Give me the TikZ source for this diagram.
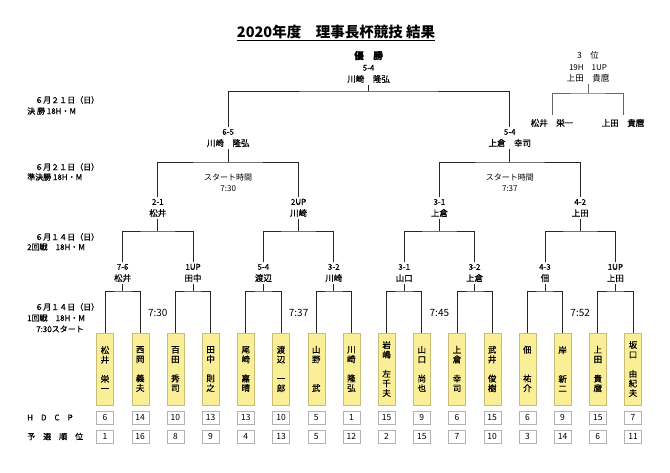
\documentclass[tikz,border=0pt]{standalone}
\usepackage{fontspec}
\setmainfont{Noto Sans CJK JP}
\newfontfamily\heavyish{Noto Sans CJK JP}[FakeBold=0.6]
\usepackage{xcolor}
\usetikzlibrary{positioning}
\definecolor{BoxYellow}{RGB}{250,238,150}
\definecolor{BoxEdge}{RGB}{200,188,120}

\tikzset{
    line/.style={draw=black!85, line width=0.9pt},
    player/.style={draw=BoxEdge, fill=BoxYellow, minimum width=17pt, minimum height=72pt,
                   inner sep=0pt, align=center, font=\heavyish\fontsize{8.5}{9.6}\selectfont},
    numbox/.style={draw=black!30, fill=white, minimum width=17pt, minimum height=13pt,
                   inner sep=0pt, font=\fontsize{8.5}{9}\selectfont},
    result/.style={align=center, inner sep=1.5pt, font=\heavyish\fontsize{8.5}{11.5}\selectfont},
    daylabel/.style={anchor=west, inner sep=0pt, font=\heavyish\fontsize{8}{9}\selectfont},
    timelabel/.style={inner sep=0pt, font=\fontsize{10}{11}\selectfont},
}

\begin{document}
\begin{tikzpicture}[x=1pt, y=-1pt]
                    \useasboundingbox (0,0) rectangle (670,473);
%                    title
                    \node[inner sep=0pt, font=\fontsize{14.5}{16}\selectfont\bfseries] (title) at (336,32) {2020年度　理事長杯競技 結果};
                    \draw[line width=1.3pt] ([yshift=-3pt]title.base west) -- ([yshift=-3pt]title.base east);

%                    dates
                    \node[daylabel] (d1a) at (35,100) {６月２１日（日）};
                    \node[daylabel] (d1b) at (27,111) {決 勝 18H・M};
                    \node[daylabel] (d2a) at (35,167) {６月２１日（日）};
                    \node[daylabel] (d2b) at (27,177) {準決勝 18H・M};
                    \node[daylabel] (d3a) at (35,237) {６月１４日（日）};
                    \node[daylabel] (d3b) at (27,247) {2回戦　18H・M};
                    \node[daylabel] (d4a) at (35,307) {６月１４日（日）};
                    \node[daylabel] (d4b) at (27,318) {1回戦　18H・M};
                    \node[daylabel] (d4c) at (36,329) {7:30スタート};
                    \node[daylabel] (hl) at (27,417.5) {H　D　C　P};
                    \node[daylabel] (rl) at (27,436.5) {予　選　順　位};

%                    players
                    \foreach \i/\nm/\hc/\rk in {0/{松\\井\\~\\栄\\一}/6/1, 1/{西\\岡\\~\\義\\夫}/14/16,
                        2/{百\\田\\~\\秀\\司}/10/8, 3/{田\\中\\~\\則\\之}/13/9,
                        4/{尾\\崎\\~\\嘉\\晴}/13/4, 5/{渡\\辺\\~\\一\\郎}/10/13,
                        6/{山\\野\\~\\~\\武}/5/5, 7/{川\\崎\\~\\隆\\弘}/1/12,
                        8/{岩\\嶋\\~\\左\\千\\夫}/15/2, 9/{山\\口\\~\\尚\\也}/9/15,
                        10/{上\\倉\\~\\幸\\司}/6/7, 11/{武\\井\\~\\俊\\樹}/15/10,
                        12/{佃\\~\\~\\祐\\介}/6/3, 13/{岸\\~\\~\\新\\二}/9/14,
                        14/{上\\田\\~\\貴\\麿}/15/6, 15/{坂\\口\\~\\由\\紀\\夫}/7/11} {
                        \node[player] (p\i) at ({105+35.2*\i},369) {\nm};
                        \node[numbox] (h\i) at ({105+35.2*\i},417.5) {\hc};
                        \node[numbox] (r\i) at ({105+35.2*\i},436.5) {\rk};
                    }
                    \foreach \q/\tm in {0/7:30, 1/7:37, 2/7:45, 3/7:52} {
                        \node[timelabel] (tm\q) at ({105+35.2*(4*\q+1.5)},313) {\tm};
                    }

%                    1st round
                    \foreach \j/\sc/\nm in {0/7-6/松井, 1/1UP/田中, 2/5-4/渡辺, 3/3-2/川崎,
                        4/3-1/山口, 5/3-2/上倉, 6/4-3/佃, 7/1UP/上田} {
                        \pgfmathtruncatemacro\a{2*\j}
                        \pgfmathtruncatemacro\b{2*\j+1}
                        \coordinate (ja\j) at ({105+35.2*(2*\j+0.5)},291);
                        \node[result] (a\j) at ({105+35.2*(2*\j+0.5)},273) {\fontsize{8}{9}\selectfont\sc\\\nm};
                        \draw[line] (p\a.north) |- (ja\j) -| (p\b.north);
                        \draw[line] (ja\j) -- (a\j.south);
                    }

%                    2nd round
                    \foreach \k/\sc/\nm in {0/2-1/松井, 1/2UP/川崎, 2/3-1/上倉, 3/4-2/上田} {
                        \pgfmathtruncatemacro\a{2*\k}
                        \pgfmathtruncatemacro\b{2*\k+1}
                        \coordinate (jb\k) at ({105+35.2*(4*\k+1.5)},231);
                        \node[result] (b\k) at ({105+35.2*(4*\k+1.5)},208) {\fontsize{8}{9}\selectfont\sc\\\nm};
                        \draw[line] (a\a.north) |- (jb\k) -| (a\b.north);
                        \draw[line] (jb\k) -- (b\k.south);
                    }

%                    semi final
                    \foreach \m/\sc/\nm/\tm in {0/6-5/川崎　隆弘/7:30, 1/5-4/上倉　幸司/7:37} {
                        \pgfmathtruncatemacro\a{2*\m}
                        \pgfmathtruncatemacro\b{2*\m+1}
                        \coordinate (jc\m) at ({105+35.2*(8*\m+3.5)},162);
                        \node[result] (c\m) at ({105+35.2*(8*\m+3.5)},138) {\fontsize{8}{9}\selectfont\sc\\\nm};
                        \node[result, font=\fontsize{8}{11}\selectfont] (s\m) at ({105+35.2*(8*\m+3.5)},183) {スタート時間\\\tm};
                        \draw[line] (b\a.north) |- (jc\m) -| (b\b.north);
                        \draw[line] (jc\m) -- (c\m.south);
                    }

%                    final
                    \coordinate (jf) at (368.6,91);
                    \node[result] (w) at (368.6,67) {{\fontsize{9.5}{10}\selectfont\bfseries 優　勝}\\{\fontsize{8}{9}\selectfont 5-4}\\川崎　隆弘};
                    \draw[line] (c0.north) |- (jf) -| (c1.north);
                    \draw[line] (jf) -- (w.south);

%                    3rd place
                    \coordinate (jt) at (588,93);
                    \node[result, font=\fontsize{8.5}{11.5}\selectfont] (t) at (588,67) {3　位\\{\fontsize{8}{9}\selectfont 19H　1UP}\\上田　貴麿};
                    \node[result, inner sep=4pt] (t0) at (552,123) {松井　栄一};
                    \node[result, inner sep=4pt] (t1) at (623,123) {上田　貴麿};
                    \draw[line, draw=black!60] (t0.north) |- (jt) -| (t1.north);
                    \draw[line, draw=black!60] (jt) -- (t.south);

                \end{tikzpicture}
\end{document}
